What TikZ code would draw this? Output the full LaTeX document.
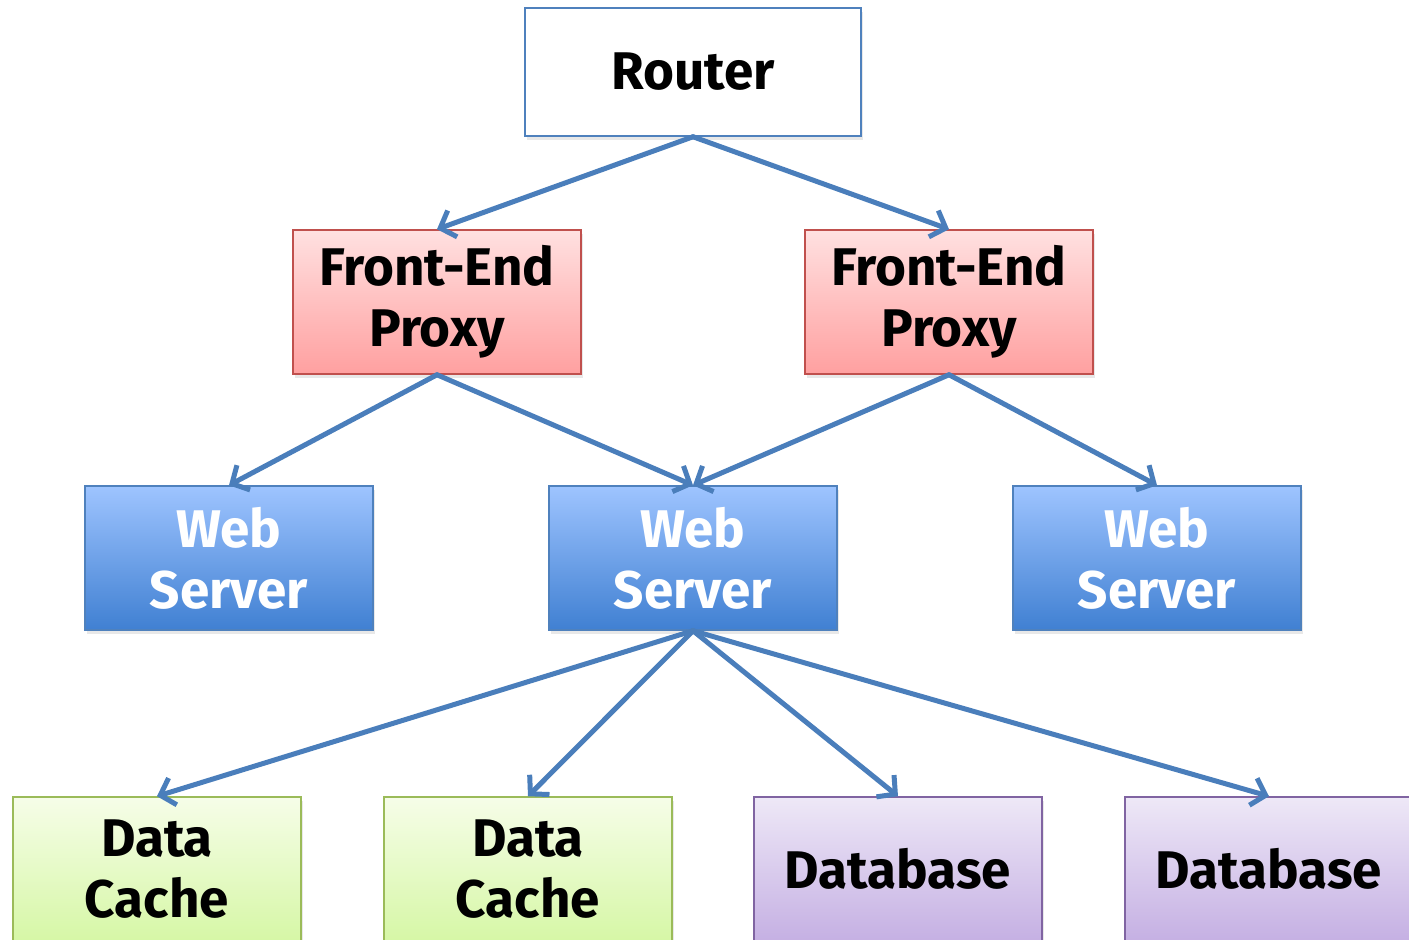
\documentclass[tikz,border=0pt]{standalone}
\usepackage{fontspec}
\setmainfont{Fira Sans}
\usetikzlibrary{arrows.meta,shadows}
\definecolor{arr}{HTML}{4A7EBB}
\definecolor{blueb}{HTML}{4F81BD}
\definecolor{redb}{HTML}{C0504D}
\definecolor{greenb}{HTML}{9BBB59}
\definecolor{purpb}{HTML}{8064A2}
\tikzset{
  box/.style={draw, line width=1.5pt, minimum width=288pt, minimum height=144pt, align=center,
    font=\fontsize{53}{61}\selectfont\bfseries, inner sep=0pt,
    drop shadow={shadow xshift=2pt, shadow yshift=-4pt, opacity=0.18}},
  routerbox/.style={box, draw=blueb, fill=white, minimum width=336pt, minimum height=128pt},
  febox/.style={box, draw=redb, top color=red!12, bottom color={rgb,255:red,255;green,160;blue,160}},
  wsbox/.style={box, draw=blueb, text=white, top color={rgb,255:red,158;green,196;blue,255}, bottom color={rgb,255:red,64;green,128;blue,210}},
  dcbox/.style={box, draw=greenb, top color={rgb,255:red,246;green,253;blue,232}, bottom color={rgb,255:red,214;green,247;blue,166}},
  dbbox/.style={box, draw=purpb, top color={rgb,255:red,238;green,232;blue,247}, bottom color={rgb,255:red,197;green,176;blue,227}},
  conn/.style={draw=arr, line width=5pt, -{Straight Barb[length=13pt,width=28pt,line width=5pt]}, line cap=round}
}
\begin{document}
\begin{tikzpicture}[x=1pt,y=-1pt]
\useasboundingbox (0,0) rectangle (1409,940);
\node[routerbox] (router) at (693,72) {Router};
\node[febox] (fe1) at (437,302) {Front-End\\Proxy};
\node[febox] (fe2) at (949,302) {Front-End\\Proxy};
\node[wsbox] (ws1) at (229,558) {Web\\Server};
\node[wsbox] (ws2) at (693,558) {Web\\Server};
\node[wsbox] (ws3) at (1157,558) {Web\\Server};
\node[dcbox] (dc1) at (157,869) {Data\\Cache};
\node[dcbox] (dc2) at (528,869) {Data\\Cache};
\node[dbbox] (db1) at (898,869) {Database};
\node[dbbox] (db2) at (1269,869) {Database};
\draw[conn] (router.south) -- (fe1.north);
\draw[conn] (router.south) -- (fe2.north);
\draw[conn] (fe1.south) -- (ws1.north);
\draw[conn] (fe1.south) -- (ws2.north);
\draw[conn] (fe2.south) -- (ws2.north);
\draw[conn] (fe2.south) -- (ws3.north);
\draw[conn] (ws2.south) -- (dc1.north);
\draw[conn] (ws2.south) -- (dc2.north);
\draw[conn] (ws2.south) -- (db1.north);
\draw[conn] (ws2.south) -- (db2.north);
\end{tikzpicture}
\end{document}
